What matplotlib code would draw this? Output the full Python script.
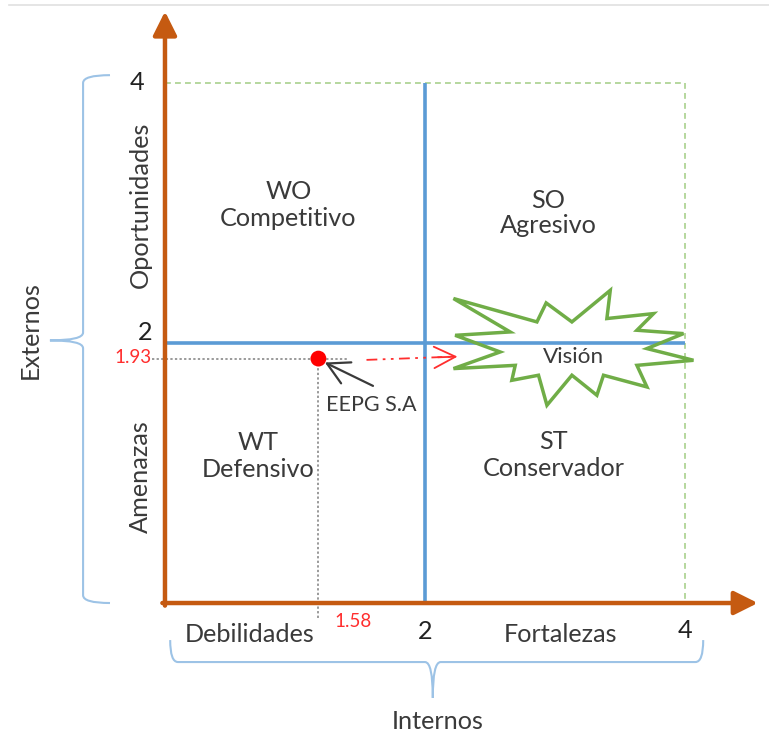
import numpy as np
import matplotlib.pyplot as plt
from matplotlib.path import Path
from matplotlib.patches import PathPatch, Polygon

plt.rcParams['font.family'] = ['Lato', 'DejaVu Sans']

# Matriz de posicion estrategica (escala 0 - 4)
eje_max = 4
eje_mid = 2
ticks_x = [2, 4]
ticks_y = [2, 4]
cuadrantes = ['WO\nCompetitivo', 'SO\nAgresivo', 'WT\nDefensivo', 'ST\nConservador']
empresa = 'EEPG S.A'
empresa_valor = [1.58, 1.93]   # valores que muestran las etiquetas rojas
empresa_pos = [1.18, 1.88]     # donde aparece el punto en el grafico
vision = 'Visión'

# colores tipo Office
naranja = '#C55A11'
azul = '#5B9BD5'
verde = '#70AD47'
verde_claro = '#A9D18E'
llave = '#9DC3E6'
texto = '#3A3A3A'
rojo = '#FF2E2E'
fs = 18.2

fig = plt.figure(figsize=(7.69, 7.45), dpi=100)
ax = fig.add_axes([0, 0, 1, 1])
ax.set_xlim(-1.269, 4.646)
ax.set_ylim(-1.092, 4.638)
ax.axis('off')

# linea gris superior
ax.plot([-1.2, 4.646], [4.6, 4.6], color='#E0E0E0', lw=1.2)

# cuadro punteado verde
ax.plot([0, eje_max, eje_max], [eje_max, eje_max, 0], color=verde_claro, lw=1.2,
        dashes=(3.5, 2.5))

# lineas azules centrales
ax.plot([eje_mid, eje_mid], [0, eje_max], color=azul, lw=2.6, solid_capstyle='butt')
ax.plot([0, eje_max], [eje_mid, eje_mid], color=azul, lw=2.6, solid_capstyle='butt')

# ejes naranjas con flecha
flecha = dict(arrowstyle='-|>,head_length=0.6,head_width=0.3', color=naranja, lw=3.2,
              mutation_scale=24, shrinkA=0, shrinkB=0)
ax.annotate('', xy=(0, 4.55), xytext=(0, -0.02), arrowprops=flecha)
ax.annotate('', xy=(4.56, 0), xytext=(-0.02, 0), arrowprops=flecha)

# guias punteadas hacia el punto
ax.plot([-0.1, empresa_pos[0] + 0.22], [empresa_pos[1]] * 2, color='#7F7F7F', lw=1.1, ls=(0, (1.5, 1.5)))
ax.plot([empresa_pos[0]] * 2, [empresa_pos[1], -0.13], color='#7F7F7F', lw=1.1, ls=(0, (1.5, 1.5)))

ax.text(-0.1, empresa_pos[1] + 0.01, f'{empresa_valor[1]:.2f}', color=rojo, fontsize=13.5,
        ha='right', va='center')
ax.text(empresa_pos[0] + 0.12, -0.14, f'{empresa_valor[0]:.2f}', color=rojo, fontsize=13.5,
        ha='left', va='center')

# flecha roja hacia la vision
ax.plot([1.55, 2.22], [1.87, 1.895], color=rojo, lw=1.3, dashes=(6, 3, 1.5, 3, 1.5, 3))
ax.annotate('', xy=(2.25, 1.895), xytext=(2.1, 1.89),
            arrowprops=dict(arrowstyle='->,head_length=1.1,head_width=0.55', color=rojo, lw=1.3,
                            mutation_scale=14, shrinkA=0, shrinkB=0))

# punto de la empresa
ax.scatter([empresa_pos[0]], [empresa_pos[1]], s=130, color='#FF0000', zorder=5, edgecolors='none')
ax.annotate('', xy=(empresa_pos[0] + 0.05, empresa_pos[1] - 0.03), xytext=(1.6, 1.67),
            arrowprops=dict(arrowstyle='->,head_length=1.1,head_width=0.6', color=texto, lw=1.6,
                            mutation_scale=14, shrinkA=0, shrinkB=0))
ax.text(1.585, 1.52, empresa, color=texto, fontsize=15.5, ha='center', va='center')

# estrella de la vision
vis_x, vis_y = 3.14, 1.89
star_dx = [-0.921, -0.279, -0.208, -0.010, 0.285, 0.259, 0.618, 0.490, 0.848, 0.567, 0.925, 0.490,
           0.567, 0.233, 0.182, -0.010, -0.202, -0.267, -0.472, -0.446, -0.921, -0.562, -0.908, -0.485]
star_dy = [0.452, 0.272, 0.418, 0.272, 0.515, 0.298, 0.336, 0.208, 0.182, 0.067, -0.023, -0.062,
           -0.228, -0.138, -0.292, -0.138, -0.369, -0.138, -0.177, -0.062, -0.087, 0.041, 0.169, 0.195]
star = Polygon(np.column_stack([vis_x + np.array(star_dx), vis_y + np.array(star_dy)]),
               closed=True, fill=False, edgecolor=verde, lw=2.5, joinstyle='miter', zorder=4)
ax.add_patch(star)
ax.text(vis_x, vis_y, vision, color=texto, fontsize=16.2, ha='center', va='center', zorder=6)

# textos de los cuadrantes
ax.text(0.95, 3.06, cuadrantes[0], color=texto, fontsize=fs, ha='center', va='center', linespacing=1.2)
ax.text(2.95, 3.0, cuadrantes[1], color=texto, fontsize=fs, ha='center', va='center', linespacing=1.15)
ax.text(0.72, 1.13, cuadrantes[2], color=texto, fontsize=fs, ha='center', va='center', linespacing=1.25)
ax.text(2.99, 1.14, cuadrantes[3], color=texto, fontsize=fs, ha='center', va='center', linespacing=1.2)

# etiquetas de los ejes
ax.text(-0.215, ticks_y[1], str(ticks_y[1]), color='#222222', fontsize=fs, ha='center', va='center')
ax.text(-0.154, ticks_y[0] + 0.08, str(ticks_y[0]), color='#222222', fontsize=fs, ha='center', va='center')
ax.text(ticks_x[0], -0.22, str(ticks_x[0]), color='#222222', fontsize=fs, ha='center', va='center')
ax.text(ticks_x[1], -0.21, str(ticks_x[1]), color='#222222', fontsize=fs, ha='center', va='center')

ax.text(-0.19, 3.06, 'Oportunidades', color=texto, fontsize=fs, rotation=90, ha='center', va='center')
ax.text(-0.19, 0.97, 'Amenazas', color=texto, fontsize=fs, rotation=90, ha='center', va='center')
ax.text(-1.04, 2.1, 'Externos', color=texto, fontsize=fs, rotation=90, ha='center', va='center')
ax.text(0.654, -0.24, 'Debilidades', color=texto, fontsize=fs, ha='center', va='center')
ax.text(3.04, -0.24, 'Fortalezas', color=texto, fontsize=fs, ha='center', va='center')
ax.text(2.1, -0.915, 'Internos', color=texto, fontsize=fs, ha='center', va='center')


def llave_vertical(x_ext, x_lomo, x_punta, y_top, y_bot, y_mid, r=0.06):
    verts = [(x_ext, y_top), (x_lomo, y_top), (x_lomo, y_top - r),
             (x_lomo, y_mid + r), (x_lomo, y_mid), (x_punta, y_mid),
             (x_lomo, y_mid), (x_lomo, y_mid - r),
             (x_lomo, y_bot + r), (x_lomo, y_bot), (x_ext, y_bot)]
    codes = [Path.MOVETO, Path.CURVE3, Path.CURVE3, Path.LINETO, Path.CURVE3, Path.CURVE3,
             Path.CURVE3, Path.CURVE3, Path.LINETO, Path.CURVE3, Path.CURVE3]
    return Path(verts, codes)


def llave_horizontal(y_ext, y_lomo, y_punta, x_izq, x_der, x_mid, r=0.06):
    verts = [(x_izq, y_ext), (x_izq, y_lomo), (x_izq + r, y_lomo),
             (x_mid - r, y_lomo), (x_mid, y_lomo), (x_mid, y_punta),
             (x_mid, y_lomo), (x_mid + r, y_lomo),
             (x_der - r, y_lomo), (x_der, y_lomo), (x_der, y_ext)]
    codes = [Path.MOVETO, Path.CURVE3, Path.CURVE3, Path.LINETO, Path.CURVE3, Path.CURVE3,
             Path.CURVE3, Path.CURVE3, Path.LINETO, Path.CURVE3, Path.CURVE3]
    return Path(verts, codes)


ax.add_patch(PathPatch(llave_vertical(-0.423, -0.63, -0.885, 4.06, 0.0, 2.02),
                       fill=False, edgecolor=llave, lw=1.5))
ax.add_patch(PathPatch(llave_horizontal(-0.285, -0.454, -0.73, 0.04, 4.14, 2.06),
                       fill=False, edgecolor=llave, lw=1.5))

plt.savefig('out.png', dpi=100)
